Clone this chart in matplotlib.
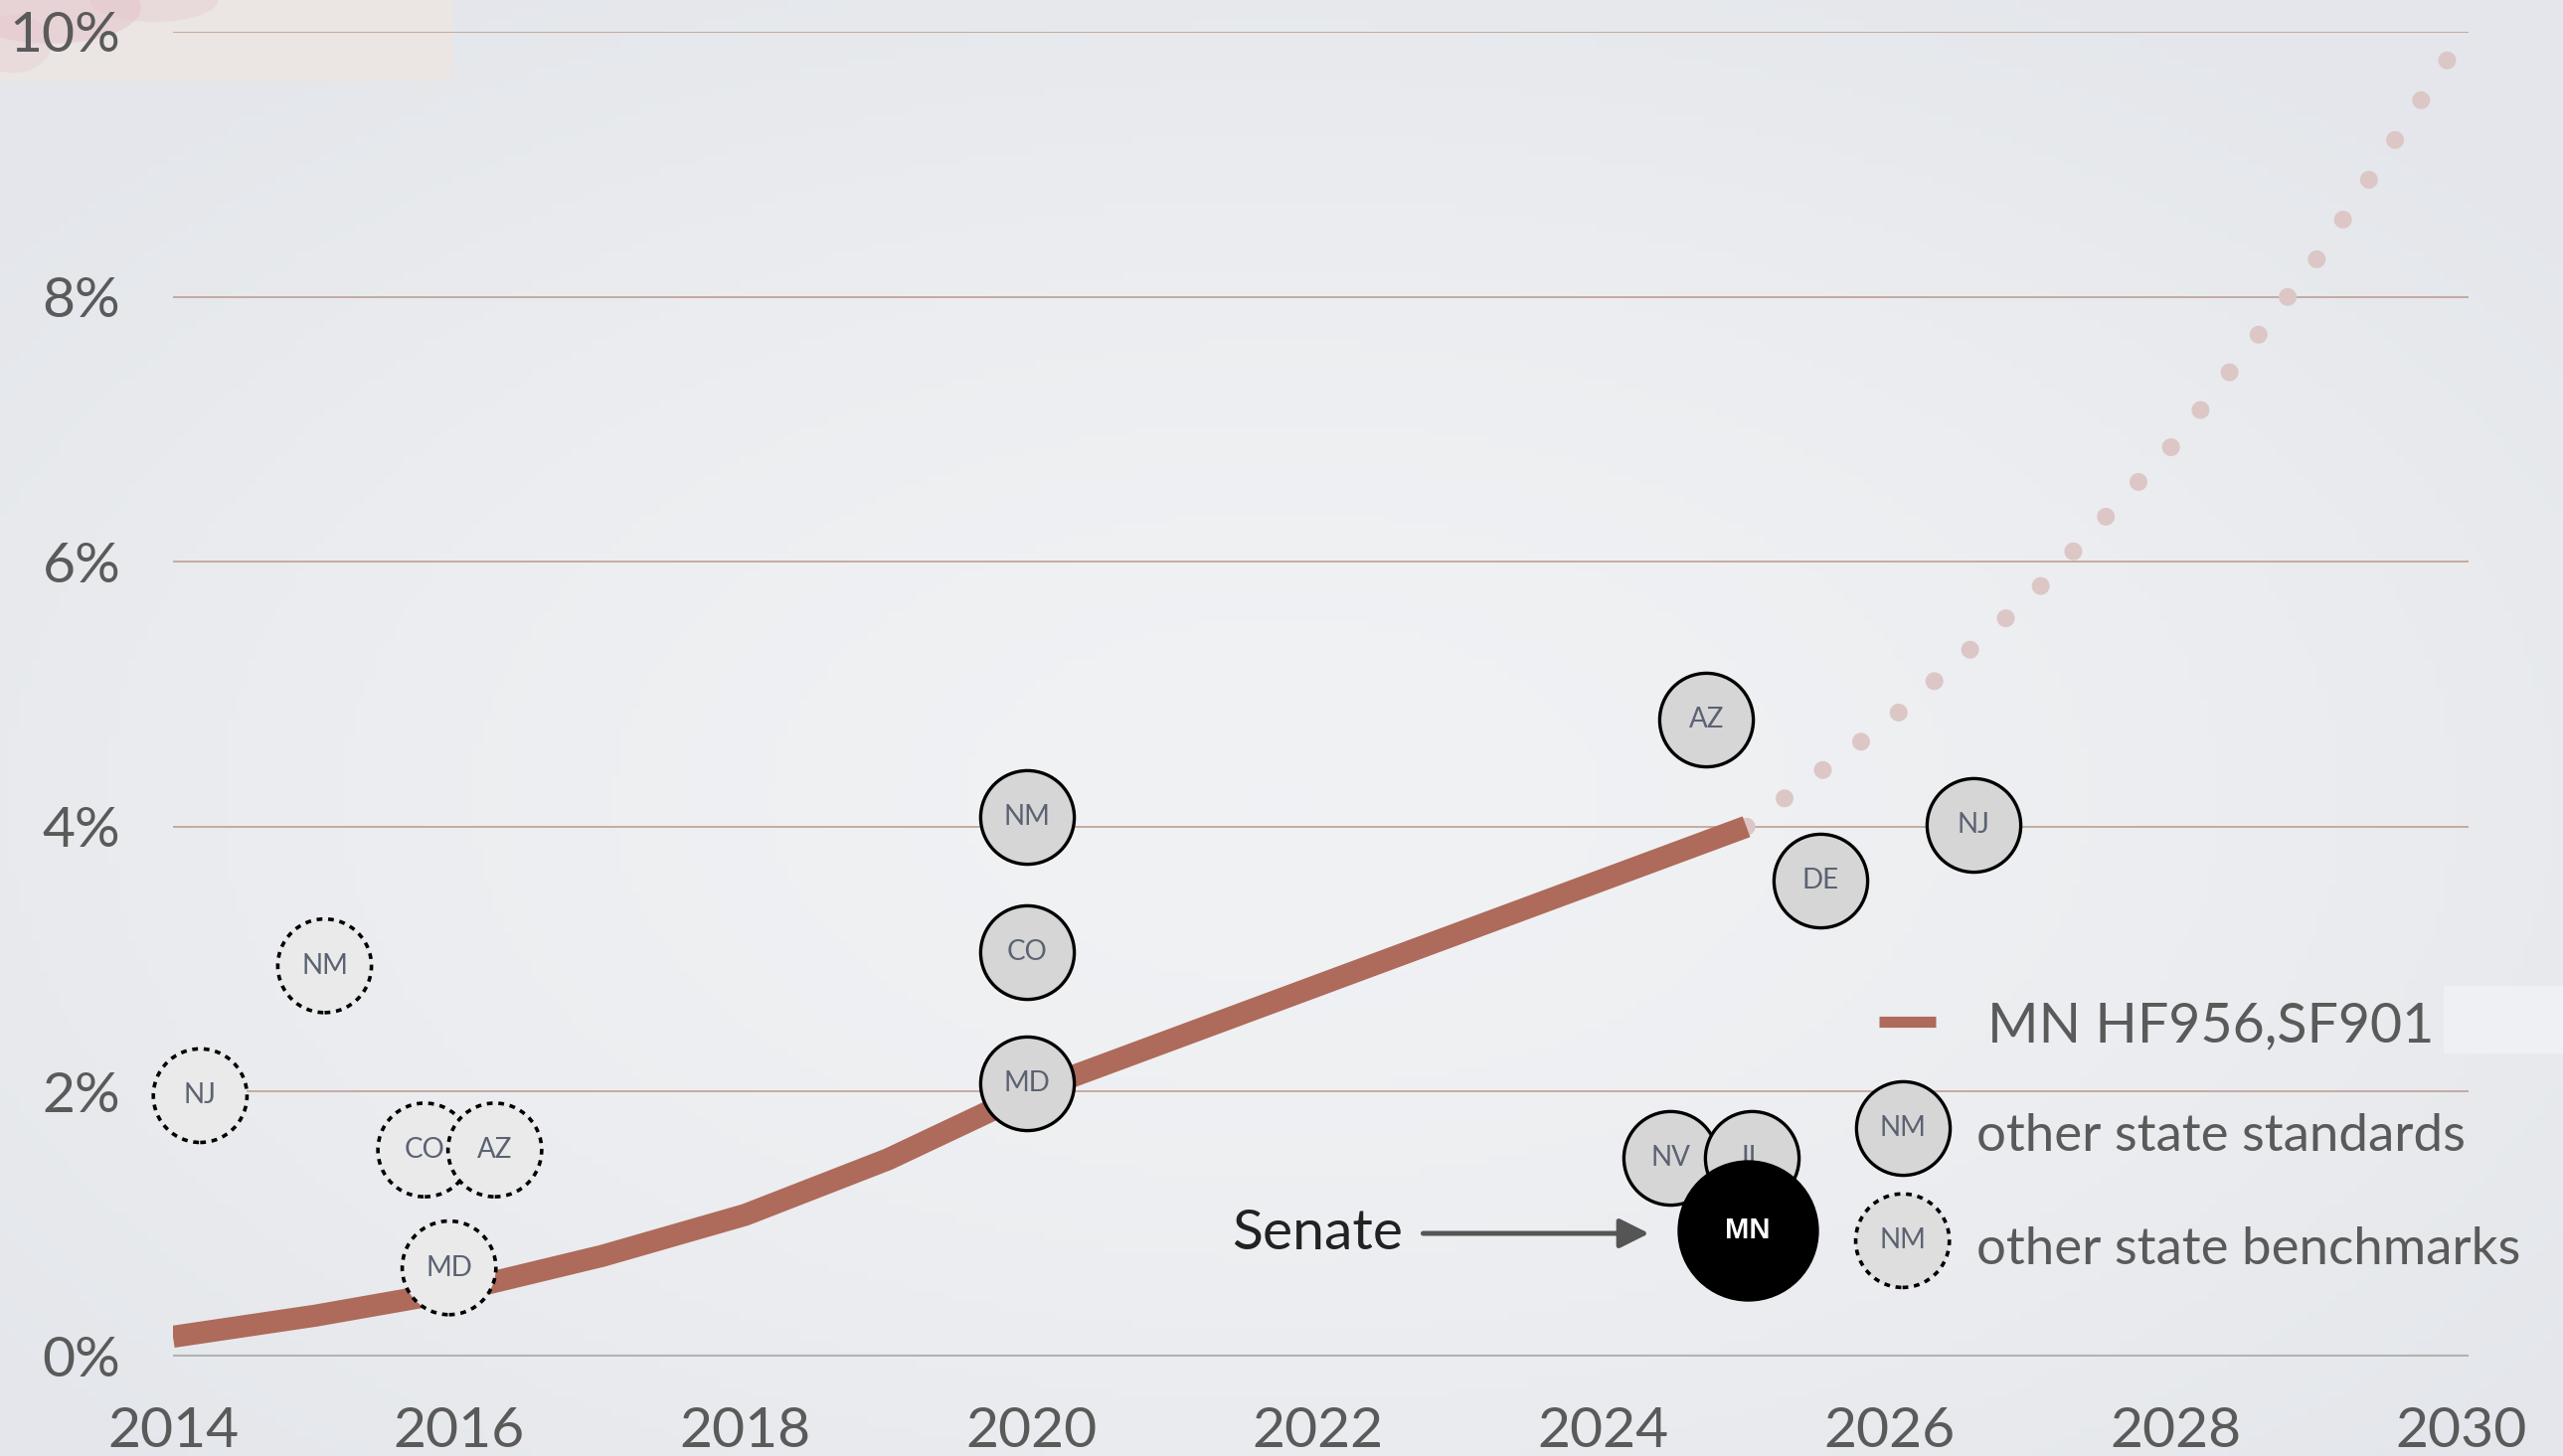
import numpy as np
import matplotlib.pyplot as plt
from matplotlib.patches import FancyBboxPatch, Ellipse, Rectangle
from matplotlib.lines import Line2D

# MN HF956 / SF901 schedule (percent)
years = [2014, 2015, 2016, 2017, 2018, 2019, 2020, 2021, 2022, 2023, 2024, 2025]
mn_bill = [0.15, 0.31, 0.5, 0.76, 1.07, 1.49, 2.0, 2.4, 2.8, 3.2, 3.6, 4.0]

# dotted continuation
proj_years = [2025, 2026, 2027, 2028, 2029, 2030]
proj_vals = [4.0, 4.8, 5.75, 6.9, 8.3, 9.95]

# other state standards (solid circles)
std_states = ["NM", "CO", "MD", "AZ", "DE", "NJ", "NV", "IL"]
std_years = [2019.97, 2019.97, 2019.97, 2024.72, 2025.52, 2026.59, 2024.47, 2025.04]
std_vals = [4.07, 3.05, 2.06, 4.81, 3.59, 4.01, 1.5, 1.5]

# other state benchmarks (dashed circles)
bench_states = ["NJ", "NM", "CO", "AZ", "MD"]
bench_years = [2014.19, 2015.06, 2015.76, 2016.25, 2015.93]
bench_vals = [1.97, 2.95, 1.56, 1.56, 0.67]

# senate version
senate_year = [2025.01]
senate_val = [0.95]

xticks = [2014, 2016, 2018, 2020, 2022, 2024, 2026, 2028, 2030]
yticks = [0, 2, 4, 6, 8, 10]
ylabels = ["0%", "2%", "4%", "6%", "8%", "10%"]

LINE_C = "#ae6a5a"
DOT_C = "#dcc7c6"
GRID_C = "#c2a698"
TXT_C = "#5a5a5a"
LBL_C = "#5b6272"
FONT = "Lato"

fig = plt.figure(figsize=(25.78, 14.65), dpi=100)
fig.patch.set_facecolor("#eceef1")

# soft background vignette
bg = fig.add_axes([0, 0, 1, 1], zorder=-10)
yy, xx = np.mgrid[0:1:150j, 0:1:260j]
r = np.sqrt(((xx - 0.5) / 0.9) ** 2 + ((yy - 0.55) / 0.9) ** 2)
light = np.array([0.945, 0.949, 0.957])
dark = np.array([0.895, 0.905, 0.922])
img = light[None, None, :] + (dark - light)[None, None, :] * np.clip(r / 0.7, 0, 1)[:, :, None] ** 1.5
bg.imshow(img, aspect="auto", extent=[0, 1, 0, 1])
bg.axis("off")

# pinkish photo strip at top-left
fig.patches.append(FancyBboxPatch((-0.01, 0.944), 0.187, 0.08,
                                  boxstyle="round,pad=0,rounding_size=0.008",
                                  mutation_aspect=2578 / 1465,
                                  transform=fig.transFigure, facecolor="#ebe5e4",
                                  edgecolor="none", zorder=-5))
for (ex, ey, ew, eh, a) in [(0.02, 0.995, 0.07, 0.05, 0.5), (0.06, 1.0, 0.05, 0.03, 0.35),
                            (0.005, 0.97, 0.03, 0.04, 0.3)]:
    fig.patches.append(Ellipse((ex, ey), ew, eh, transform=fig.transFigure,
                               facecolor="#e5c3ca", alpha=a, edgecolor="none", zorder=-4))

# lighter strip behind legend end
fig.patches.append(Rectangle((0.9535, 0.2765), 0.05, 0.0464, transform=fig.transFigure,
                             facecolor="#eff0f3", edgecolor="none", zorder=-4))

ax = fig.add_axes([0.0675, 0.06826, 0.8957, 0.9099])
ax.set_facecolor("none")
ax.set_xlim(2014, 2030.05)
ax.set_ylim(0, 10)
for s in ax.spines.values():
    s.set_visible(False)

ax.set_yticks(yticks)
ax.set_yticklabels(ylabels)
ax.set_xticks(xticks)
ax.tick_params(axis="both", length=0, labelsize=41, labelcolor=TXT_C)
ax.tick_params(axis="y", pad=38)
ax.tick_params(axis="x", pad=36)
for lab in ax.get_xticklabels() + ax.get_yticklabels():
    lab.set_fontfamily(FONT)

for v in yticks[1:]:
    ax.axhline(v, color=GRID_C, lw=1.3, zorder=1)
ax.axhline(0, color="#b2b2b2", lw=3, zorder=1)

# bill schedule and projection
ax.plot(proj_years, proj_vals, color=DOT_C, lw=13, linestyle=(0, (0.001, 2.65)),
        dash_capstyle="round", zorder=2)
ax.plot(years, mn_bill, color=LINE_C, lw=16, solid_capstyle="butt", zorder=3)

# state circles
for x, y, name in zip(bench_years, bench_vals, bench_states):
    ax.scatter([x], [y], s=4600, facecolor="#eaeaea", edgecolor="black", lw=2.6,
               linestyle=(0, (1.6, 1.6)), zorder=4, clip_on=False)
    ax.text(x, y, name, ha="center", va="center", fontsize=20, color=LBL_C,
            family=FONT, zorder=4)
for x, y, name in zip(std_years, std_vals, std_states):
    ax.scatter([x], [y], s=4600, facecolor="#d6d6d6", edgecolor="black", lw=2.4,
               zorder=5, clip_on=False)
    ax.text(x, y, name, ha="center", va="center", fontsize=20, color=LBL_C,
            family=FONT, zorder=5)

ax.scatter(senate_year, senate_val, s=10300, color="black", zorder=6)
ax.text(senate_year[0], senate_val[0], "MN", ha="center", va="center", fontsize=21,
        color="white", fontweight="bold", family="Liberation Sans", zorder=7)

ax.text(2021.40, 0.813, "Senate", ha="left", va="baseline", fontsize=41,
        color="#222222", family=FONT)
ax.annotate("", xy=(2024.32, 0.93), xytext=(2022.74, 0.93),
            arrowprops=dict(arrowstyle="-|>,head_length=0.4,head_width=0.2",
                            color="#555555", lw=3.6, mutation_scale=45,
                            shrinkA=0, shrinkB=0), zorder=6)

# legend, drawn by hand
fig.add_artist(Line2D([0.733, 0.7554], [0.2983, 0.2983], color=LINE_C, lw=8,
                      solid_capstyle="butt", transform=fig.transFigure))
fig.text(0.7753, 0.2846, "MN HF956,SF901", fontsize=40, color=TXT_C, family=FONT,
         va="baseline")
ax.scatter([0.7423], [0.2253], s=4600, facecolor="#d6d6d6", edgecolor="black", lw=2.4,
           transform=fig.transFigure, clip_on=False, zorder=5)
ax.scatter([0.7423], [0.1479], s=4600, facecolor="#dedede", edgecolor="black", lw=2.6,
           linestyle=(0, (1.6, 1.6)), transform=fig.transFigure, clip_on=False, zorder=5)
for ly in [0.2253, 0.1479]:
    fig.text(0.7423, ly, "NM", ha="center", va="center", fontsize=20, color=LBL_C,
             family=FONT, zorder=6)
fig.text(0.7712, 0.2096, "other state standards", fontsize=38, color=TXT_C, family=FONT,
         va="baseline")
fig.text(0.7712, 0.1319, "other state benchmarks", fontsize=38, color=TXT_C, family=FONT,
         va="baseline")

plt.savefig("out.png", dpi=100, facecolor=fig.get_facecolor())
